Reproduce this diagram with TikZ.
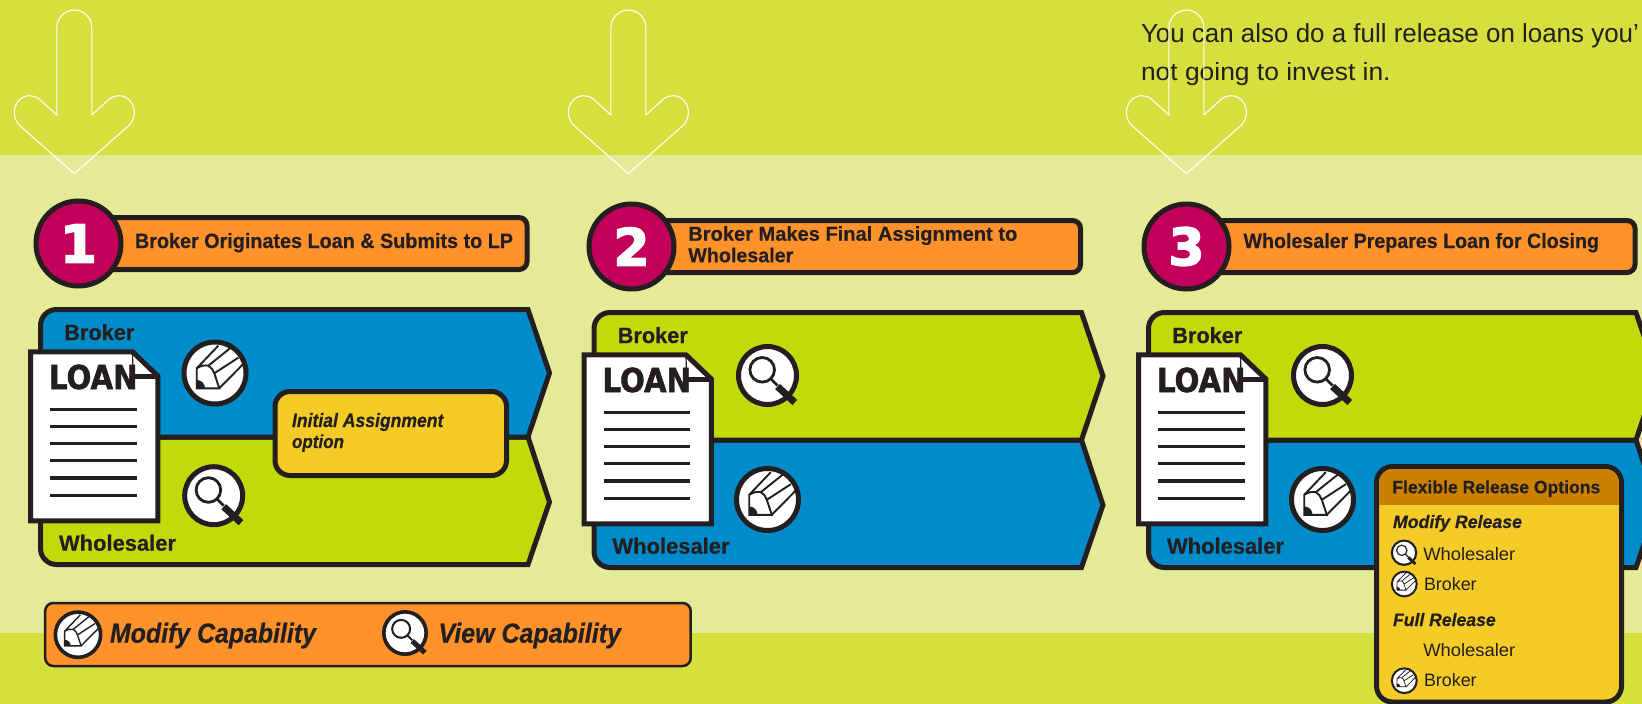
\documentclass[tikz,border=0pt]{standalone}
\usepackage{graphicx}
\usepackage{fontspec}
\setmainfont[BoldFeatures={FakeBold=0.5},BoldItalicFeatures={FakeBold=0.5}]{Liberation Sans}
\newfontfamily\heavyfont[FakeBold=1.6]{DejaVu Sans Bold}
\newfontfamily\numfont[FakeBold=3]{DejaVu Sans Bold}
\definecolor{ink}{HTML}{231F20}
\definecolor{topgreen}{HTML}{D5E03F}
\definecolor{paleband}{HTML}{E5EA96}
\definecolor{lanegreen}{HTML}{C3DA0A}
\definecolor{laneblue}{HTML}{008CCB}
\definecolor{barorange}{HTML}{FF922B}
\definecolor{boxyellow}{HTML}{F5CB27}
\definecolor{headorange}{HTML}{CC8000}
\definecolor{crimson}{HTML}{C2005A}
\newcommand\fit[3]{\resizebox{#1pt}{#2pt}{#3}}
\tikzset{
  txt/.style={anchor=base west,inner sep=0pt,outer sep=0pt,text=ink},
  downarrow/.style={draw=white,line width=1.1pt,line join=round},
  lane/.style={draw=ink,line width=5pt,line join=miter},
  stepbar/.style={draw=ink,fill=barorange,line width=5pt,rounded corners=8pt},
  stepdisc/.style={draw=ink,fill=crimson,line width=5pt},
  pics/pencilicon/.style={code={
    \fill[white] (0,0) circle[radius=31];
    \draw[ink,line width=#1*1.9pt,line cap=butt,line join=miter]
      (-18.3,-4.7) -- (3.3,-27.3) (-6.7,-7.3) -- (15,-24.7) (-0.7,0.3) -- (23.3,-15.3) (4.3,15.3) -- (28,-8.7)
      (-18.3,15.3) -- (-18.3,-4.7) .. controls (-14,-7.5) and (-10,-8) .. (-6.7,-7.3) .. controls (-3.5,-6) and (-2,-3) .. (-0.7,0.3) -- (4.3,15.3) -- cycle;
    \fill[ink] (-18.3,15.3) -- (-18.3,7) .. controls (-13.5,7) and (-10,10.5) .. (-10,15.3) -- cycle;
    \draw[ink,line width=#1*5pt] (0,0) circle[radius=31];
  }},
  pics/magicon/.style={code={
    \fill[white] (0,0) circle[radius=29];
    \draw[ink,line width=#1*5pt] (0,0) circle[radius=29];
    \draw[ink,line width=#1*2.8pt] (-5.3,-5.7) circle[radius=12.3];
    \draw[ink,line width=#1*2.8pt] (3.5,3.5) -- (10,10);
    \draw[ink,line width=#1*7pt] (10,11) -- (27.3,27);
  }}
}
\newcommand\DownArrow[1]{%
  \begin{scope}[shift={(#1,0)}]
    \draw[downarrow] (-17.5,115) -- (-17.5,27.5) .. controls (-17.5,18) and (-9.5,10) .. (0,10)
      .. controls (9.5,10) and (17.5,18) .. (17.5,27.5) -- (17.5,115) -- (34,100)
      .. controls (38,96.5) and (41,95.7) .. (44.7,95.7) .. controls (53,95.7) and (60,103) .. (60,112.3)
      .. controls (60,118) and (57.5,123) .. (54,126) -- (0,173.7) -- (-54,126)
      .. controls (-57.5,123) and (-60,118) .. (-60,112.3) .. controls (-60,103) and (-53,95.7) .. (-44.7,95.7)
      .. controls (-41,95.7) and (-38,96.5) .. (-34,100) -- cycle;
  \end{scope}}
% #1 id, #2 dx, #3 dy, #4 top colour, #5 bottom colour
\newcommand\Column[5]{%
  \begin{scope}[shift={(#2,#3)}]
    \draw[lane,fill=#5] (40.5,437) [rounded corners=16pt] -- (40.5,564.5) [sharp corners] -- (528,564.5) -- (549.5,502) -- (528,437) -- cycle;
    \draw[lane,fill=#4] (40.5,437) [rounded corners=16pt] -- (40.5,309.5) [sharp corners] -- (528,309.5) -- (549.5,373) -- (528,437) -- cycle;
    \node[txt] (#1broker) at (64.3,340) {\fit{70}{16}{\textbf{Broker}}};
    \node[txt] (#1whole) at (59,550.7) {\fit{117}{16}{\textbf{Wholesaler}}};
    \fill[white] (30.5,351.8) -- (132.5,351.8) -- (157.8,376) -- (157.8,520.8) -- (30.5,520.8) -- cycle;
    \draw[ink,line width=1.2pt] (132.5,351.8) -- (133,376);
    \draw[ink,line width=5pt] (133,376) -- (157.8,376);
    \draw[ink,line width=5pt,line join=miter] (30.5,351.8) -- (132.5,351.8) -- (157.8,376) -- (157.8,520.8) -- (30.5,520.8) -- cycle;
    \node[txt] (#1loan) at (49,389) {\fit{88.5}{24.5}{\heavyfont LOAN}};
    \foreach \ly in {409.3,426.7,443.7,460.7,478,495.3}
      \draw[ink,line width=3.3pt] (50.3,\ly) -- (136.7,\ly);
  \end{scope}}
\begin{document}
\begin{tikzpicture}[x=1pt,y=-1pt]
\useasboundingbox (0,0) rectangle (1642,704);
\clip (0,0) rectangle (1642,704);
\fill[topgreen] (0,0) rectangle (1642,704);
\fill[paleband] (0,155) rectangle (1642,633);
% top note
\node[txt] (note1) at (1141,42.7) {\fit{498}{19}{You can also do a full release on loans you’}};
\node[txt] (note2) at (1141,80) {\fit{249.6}{18}{not going to invest in.}};
\DownArrow{74.3}
\DownArrow{628.4}
\DownArrow{1186.4}
% step bars
\draw[stepbar] (100,217.5) rectangle (527,269.5);
\node[stepdisc,circle,minimum size=85pt,inner sep=0pt] (disc1) at (78.5,243.5) {};
\node[inner sep=0pt,text=white] (num1) at (disc1) {\fit{37}{38}{\numfont 1}};
\node[txt] (title1) at (135,248) {\fit{378}{15}{\textbf{Broker Originates Loan \& Submits to LP}}};
\draw[stepbar] (653,220.5) rectangle (1080.5,272.5);
\node[stepdisc,circle,minimum size=85pt,inner sep=0pt] (disc2) at (631.5,246.5) {};
\node[inner sep=0pt,text=white] (num2) at (disc2) {\fit{36}{38}{\numfont 2}};
\node[txt] (title2a) at (688.3,240.7) {\fit{329}{14.5}{\textbf{Broker Makes Final Assignment to}}};
\node[txt] (title2b) at (688.3,262.2) {\fit{105}{14.5}{\textbf{Wholesaler}}};
\draw[stepbar] (1208,220.5) rectangle (1635,272.5);
\node[stepdisc,circle,minimum size=85pt,inner sep=0pt] (disc3) at (1186.5,246.5) {};
\node[inner sep=0pt,text=white] (num3) at (disc3) {\fit{36}{38}{\numfont 3}};
\node[txt] (title3) at (1243.5,248) {\fit{355.5}{15}{\textbf{Wholesaler Prepares Loan for Closing}}};
% columns
\Column{a}{0}{0}{laneblue}{lanegreen}
\Column{b}{553.5}{3}{lanegreen}{laneblue}
\Column{c}{1108}{3}{lanegreen}{laneblue}
% icons
\pic at (215,373) {pencilicon=1};
\pic at (213.7,495.7) {magicon=1};
\pic at (767.5,375.5) {magicon=1};
\pic at (767.5,499.5) {pencilicon=1};
\pic at (1322.5,375.5) {magicon=1};
\pic at (1322.5,499.5) {pencilicon=1};
% initial assignment
\draw[draw=ink,fill=boxyellow,line width=5pt,rounded corners=15pt] (275,391.5) rectangle (506.5,475.5);
\node[txt] (assign1) at (292,427) {\fit{152}{14}{\textbf{\textit{Initial Assignment}}}};
\node[txt] (assign2) at (292,448) {\fit{52}{13.5}{\textbf{\textit{option}}}};
% flexible release
\draw[draw=ink,fill=boxyellow,line width=5pt,rounded corners=16pt] (1376.5,466.5) rectangle (1621.5,702);
\begin{scope}
  \clip[rounded corners=14pt] (1379,469) rectangle (1619,700);
  \fill[headorange] (1379,469) rectangle (1619,505);
\end{scope}
\node[txt] (flexhead) at (1392.3,493.3) {\fit{208}{13}{\textbf{Flexible Release Options}}};
\node[txt] (modrel) at (1393,528) {\fit{129}{13}{\textbf{\textit{Modify Release}}}};
\pic[scale=.42] at (1404,552.7) {magicon=.42};
\node[txt] (w1) at (1423.3,560) {\fit{92}{13}{Wholesaler}};
\pic[scale=.4] at (1404.3,584) {pencilicon=.4};
\node[txt] (b1) at (1424,590) {\fit{52.7}{13}{Broker}};
\node[txt] (fullrel) at (1393,626) {\fit{102.7}{13}{\textbf{\textit{Full Release}}}};
\node[txt] (w2) at (1423.3,656) {\fit{92}{13}{Wholesaler}};
\pic[scale=.4] at (1404.3,680.7) {pencilicon=.4};
\node[txt] (b2) at (1424,686.7) {\fit{52.7}{13}{Broker}};
% legend
\draw[draw=ink,fill=barorange,line width=2.5pt,rounded corners=8pt] (45.2,603) rectangle (690.7,666);
\pic[scale=.73] at (78,634.7) {pencilicon=.73};
\node[txt] (legmod) at (110,642.7) {\fit{207}{20}{\textbf{\textit{Modify Capability}}}};
\pic[scale=.73] at (405,633) {magicon=.73};
\node[txt] (legview) at (438.5,642.7) {\fit{183.5}{20}{\textbf{\textit{View Capability}}}};
\end{tikzpicture}
\end{document}
